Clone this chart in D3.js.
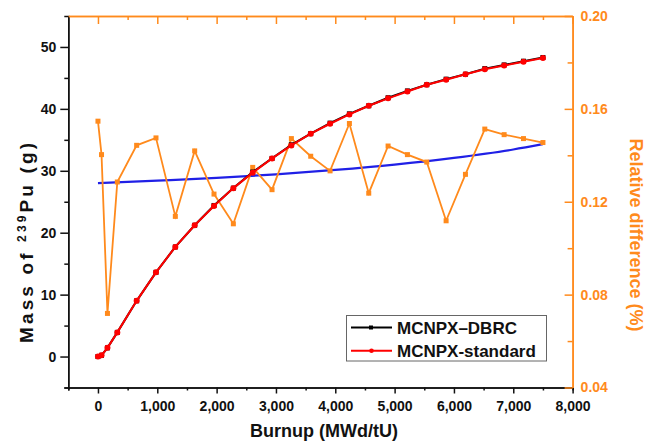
<!DOCTYPE html>
<html>
<head>
<meta charset="utf-8">
<script src="https://cdn.jsdelivr.net/npm/d3@7"></script>
<style>
  body { margin: 0; background: #fff; }
  text { font-family: "Liberation Sans", Arial, sans-serif; font-weight: bold; }
</style>
</head>
<body>
<div id="chart"></div>
<script>
// burnup steps (MWd/tU)
var burnup = [0, 60, 160, 326, 652, 978, 1304, 1630, 1956, 2282, 2608, 2934, 3260,
              3586, 3912, 4238, 4564, 4890, 5216, 5542, 5868, 6194, 6520, 6846, 7172, 7500];
// Pu-239 mass (g)
var dbrc     = [0, 0.2, 1.4, 3.9, 9.0, 13.6, 17.7, 21.2, 24.4, 27.2, 29.8, 32.0, 34.2,
                36.0, 37.7, 39.2, 40.5, 41.8, 42.9, 43.9, 44.8, 45.6, 46.5, 47.1, 47.7, 48.3];
var standard = [0, 0.2, 1.4, 3.9, 9.0, 13.6, 17.7, 21.2, 24.3, 27.2, 29.7, 32.0, 34.1,
                36.0, 37.6, 39.1, 40.5, 41.7, 42.8, 43.9, 44.7, 45.6, 46.4, 47.0, 47.6, 48.2];
// relative difference (%)
var relDiff  = [0.1547, 0.1403, 0.0719, 0.1285, 0.1443, 0.1475, 0.1137, 0.1419, 0.1233,
                0.1105, 0.1348, 0.1252, 0.1472, 0.1396, 0.1333, 0.1537, 0.1237, 0.1440,
                0.1403, 0.1371, 0.1118, 0.1318, 0.1513, 0.1489, 0.1472, 0.1455];
// fitted trend of relative difference
var trendX = [0, 1000, 2000, 3000, 4000, 5000, 6000, 7000, 7500];
var trendY = [0.1280, 0.1291, 0.1303, 0.1318, 0.1337, 0.1360, 0.1389, 0.1425, 0.1448];

var xTicks = [0, 1000, 2000, 3000, 4000, 5000, 6000, 7000, 8000];
var xMinor = [-500, 500, 1500, 2500, 3500, 4500, 5500, 6500, 7500];
var yTicks = [0, 10, 20, 30, 40, 50];
var yMinor = [-5, 5, 15, 25, 35, 45];
var rTicks = [0.04, 0.08, 0.12, 0.16, 0.20];
var rMinor = [0.06, 0.10, 0.14, 0.18];

var W = 654, H = 443;
var L = 68.3, R = 572.6, T = 16, B = 387.5;
var orange = "#ff8a1c", red = "#ff0000", blue = "#2020e6";

var svg = d3.select("#chart").append("svg")
    .attr("width", W).attr("height", H);

var x = d3.scaleLinear().domain([-500, 8000]).range([L, R]);
var y = d3.scaleLinear().domain([-5, 55]).range([B, T]);
var yr = d3.scaleLinear().domain([0.04, 0.20]).range([B, T]);

function styleAxis(g, color, size) {
    g.selectAll("path").attr("stroke", color).attr("stroke-width", 1.5);
    g.selectAll("line").attr("stroke", color).attr("stroke-width", 1.5);
    g.selectAll("text").attr("fill", color).style("font-size", size + "px");
}

// left / bottom (black)
var gMinL = svg.append("g").attr("transform", "translate(" + L + ",0)")
    .call(d3.axisLeft(y).tickValues(yMinor).tickSize(4).tickFormat(""));
styleAxis(gMinL, "#111", 13);
var gL = svg.append("g").attr("transform", "translate(" + L + ",0)")
    .call(d3.axisLeft(y).tickValues(yTicks).tickSizeInner(8).tickSizeOuter(0).tickPadding(4));
styleAxis(gL, "#111", 14);

var gMinB = svg.append("g").attr("transform", "translate(0," + B + ")")
    .call(d3.axisBottom(x).tickValues(xMinor).tickSize(3).tickFormat(""));
styleAxis(gMinB, "#111", 13);
var gB = svg.append("g").attr("transform", "translate(0," + B + ")")
    .call(d3.axisBottom(x).tickValues(xTicks).tickSizeInner(6).tickSizeOuter(0).tickPadding(8)
        .tickFormat(d3.format(",")));
styleAxis(gB, "#111", 14);

// top / right (orange)
var gMinT = svg.append("g").attr("transform", "translate(0," + T + ")")
    .call(d3.axisTop(x).tickValues(xMinor.slice(1)).tickSizeInner(-4).tickSizeOuter(0).tickFormat(""));
styleAxis(gMinT, orange, 13);
var gT = svg.append("g").attr("transform", "translate(0," + T + ")")
    .call(d3.axisTop(x).tickValues(xTicks).tickSizeInner(-8).tickSizeOuter(0).tickFormat(""));
styleAxis(gT, orange, 13);

var gMinR = svg.append("g").attr("transform", "translate(" + R + ",0)")
    .call(d3.axisRight(yr).tickValues(rMinor).tickSizeInner(-5).tickSizeOuter(0).tickFormat(""));
styleAxis(gMinR, orange, 13);
var gR = svg.append("g").attr("transform", "translate(" + R + ",0)")
    .call(d3.axisRight(yr).tickValues(rTicks).tickSizeInner(-8).tickSizeOuter(0).tickPadding(8)
        .tickFormat(d3.format(".2f")));
styleAxis(gR, orange, 14);

// series
var trendLine = d3.line().curve(d3.curveMonotoneX)
    .x(function (d, i) { return x(trendX[i]); })
    .y(function (d) { return yr(d); });
svg.append("path").attr("d", trendLine(trendY))
    .attr("fill", "none").attr("stroke", blue).attr("stroke-width", 2.2);

var relLine = d3.line()
    .x(function (d, i) { return x(burnup[i]); })
    .y(function (d) { return yr(d); });
svg.append("path").attr("d", relLine(relDiff))
    .attr("fill", "none").attr("stroke", orange).attr("stroke-width", 1.8);
svg.selectAll(".rel").data(relDiff).enter().append("rect")
    .attr("x", function (d, i) { return x(burnup[i]) - 2.5; })
    .attr("y", function (d) { return yr(d) - 2.5; })
    .attr("width", 5).attr("height", 5).attr("fill", orange);

var massLine = d3.line()
    .x(function (d, i) { return x(burnup[i]); })
    .y(function (d) { return y(d); });
svg.append("path").attr("d", massLine(dbrc))
    .attr("fill", "none").attr("stroke", "#000").attr("stroke-width", 2);
svg.selectAll(".dbrc").data(dbrc).enter().append("rect")
    .attr("x", function (d, i) { return x(burnup[i]) - 2.5; })
    .attr("y", function (d) { return y(d) - 2.5; })
    .attr("width", 5).attr("height", 5).attr("fill", "#000");

svg.append("path").attr("d", massLine(standard))
    .attr("fill", "none").attr("stroke", red).attr("stroke-width", 2);
svg.selectAll(".std").data(standard).enter().append("circle")
    .attr("cx", function (d, i) { return x(burnup[i]); })
    .attr("cy", function (d) { return y(d); })
    .attr("r", 3).attr("fill", red);

// axis titles
svg.append("text")
    .attr("x", 324).attr("y", 437)
    .attr("text-anchor", "middle")
    .style("font-size", "18px").attr("fill", "#111")
    .text("Burnup (MWd/tU)");

var yTitle = svg.append("text")
    .attr("transform", "translate(33,243) rotate(-90)")
    .attr("text-anchor", "middle")
    .attr("textLength", 200).attr("lengthAdjust", "spacing")
    .style("font-size", "19px").attr("fill", "#111");
yTitle.append("tspan").text("Mass of ");
yTitle.append("tspan").attr("dy", -7).style("font-size", "12px").text("239");
yTitle.append("tspan").attr("dy", 7).text("Pu (g)");

svg.append("text")
    .attr("transform", "translate(630,235) rotate(90)")
    .attr("text-anchor", "middle")
    .style("font-size", "18px").attr("fill", orange)
    .text("Relative difference (%)");

// legend
var leg = svg.append("g");
leg.append("rect").attr("x", 346.5).attr("y", 315.5).attr("width", 200).attr("height", 45.5)
    .attr("fill", "#fff").attr("stroke", "#666").attr("stroke-width", 1);
var legItems = [
    { name: "MCNPX\u2013DBRC", color: "#000", shape: "square" },
    { name: "MCNPX-standard", color: red, shape: "circle" }
];
legItems.forEach(function (d, i) {
    var cy = 327.5 + i * 23.3;
    leg.append("line").attr("x1", 351).attr("x2", 392).attr("y1", cy).attr("y2", cy)
        .attr("stroke", d.color).attr("stroke-width", 2);
    if (d.shape === "square") {
        leg.append("rect").attr("x", 369).attr("y", cy - 2).attr("width", 4).attr("height", 4).attr("fill", d.color);
    } else {
        leg.append("circle").attr("cx", 371.5).attr("cy", cy).attr("r", 2.3).attr("fill", d.color);
    }
    leg.append("text").attr("x", 397).attr("y", cy + 6)
        .style("font-size", "17px").attr("fill", "#111").text(d.name);
});
</script>
</body>
</html>
